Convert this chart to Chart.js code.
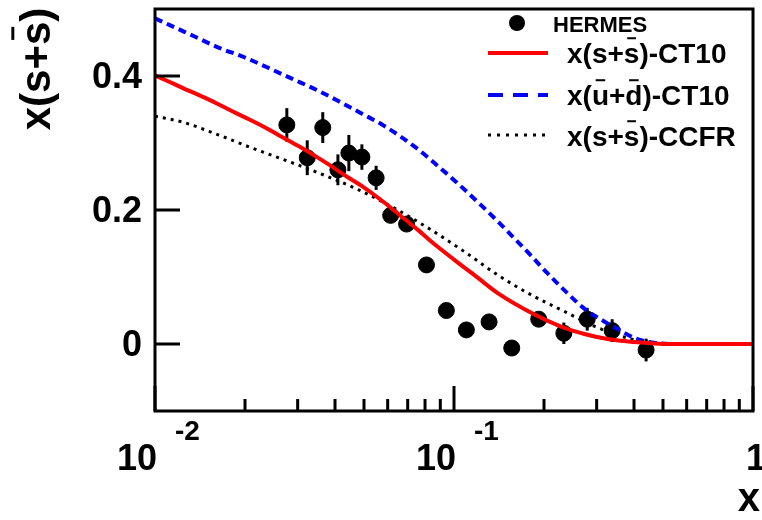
<!DOCTYPE html>
<html>
<head>
<meta charset="utf-8">
<script src="https://cdn.jsdelivr.net/npm/chart.js@4"></script>
<style>
  body { margin: 0; background: #fff; }
  #wrap { width: 762px; height: 520px; }
</style>
</head>
<body>
<div id="wrap"><canvas id="myChart" width="762" height="520"></canvas></div>
<script>
// HERMES points
let hermesX = [0.0276, 0.0323, 0.0364, 0.0409, 0.0445, 0.0492, 0.0549, 0.0614, 0.0694, 0.0809,
               0.0943, 0.110, 0.131, 0.156, 0.192, 0.233, 0.279, 0.338, 0.439];
let hermesY = [0.327, 0.278, 0.323, 0.260, 0.285, 0.279, 0.248, 0.192, 0.179, 0.118,
               0.050, 0.021, 0.033, -0.006, 0.037, 0.016, 0.037, 0.020, -0.009];
let hermesErr = [0.025, 0.026, 0.023, 0.023, 0.027, 0.019, 0.018, 0.010, 0.010, 0.008,
                 0.008, 0.008, 0.008, 0.010, 0.010, 0.016, 0.017, 0.017, 0.017];

// x(s+sbar) CT10
let ct10sX = [0.01, 0.0112, 0.0124, 0.0141, 0.0161, 0.0182, 0.0207, 0.0236, 0.0266, 0.0303,
              0.0345, 0.039, 0.0434, 0.0491, 0.0566, 0.0652, 0.0759, 0.0839, 0.1, 0.12,
              0.14, 0.186, 0.228, 0.273, 0.33, 0.40, 0.487, 0.6, 1.0];
let ct10sY = [0.401, 0.391, 0.382, 0.371, 0.359, 0.347, 0.335, 0.322, 0.309, 0.295,
              0.280, 0.265, 0.251, 0.236, 0.216, 0.194, 0.170, 0.153, 0.126, 0.099,
              0.076, 0.044, 0.026, 0.015, 0.007, 0.003, 0.0005, 0, 0];

// x(ubar+dbar) CT10
let ct10udX = [0.01, 0.0112, 0.0134, 0.0164, 0.0199, 0.0237, 0.0287, 0.0348, 0.0417, 0.0491,
               0.0582, 0.0746, 0.0882, 0.101, 0.122, 0.143, 0.155, 0.180, 0.205, 0.238,
               0.274, 0.317, 0.350, 0.407, 0.473, 0.55, 1.0];
let ct10udY = [0.486, 0.476, 0.460, 0.442, 0.428, 0.413, 0.396, 0.379, 0.361, 0.344,
               0.326, 0.293, 0.266, 0.243, 0.209, 0.179, 0.163, 0.133, 0.106, 0.077,
               0.052, 0.034, 0.023, 0.008, 0.0015, 0, 0];

// x(s+sbar) CCFR
let ccfrX = [0.01, 0.0124, 0.0161, 0.0207, 0.0266, 0.0345, 0.048, 0.0618, 0.080, 0.109,
             0.140, 0.180, 0.233, 0.300, 0.387, 0.473, 0.60, 1.0];
let ccfrY = [0.340, 0.331, 0.313, 0.294, 0.276, 0.257, 0.230, 0.205, 0.176, 0.137,
             0.103, 0.074, 0.049, 0.025, 0.008, 0.0015, 0, 0];

// axis ticks
let yTicks = [0, 0.2, 0.4];
let yTickLabels = ['0', '0.2', '0.4'];
let xMajorTicks = [0.01, 0.1, 1];
let xTickBase = ['10', '10', '1'];
let xTickExp = ['-2', '-1', ''];

const FONT = '"Liberation Sans", Arial, sans-serif';

function toPoints(xs, ys){
    return xs.map((x, i) => ({x: x, y: ys[i]}));
}

// draws text where some pieces carry an overline (bar)
function drawRich(ctx, parts, x, y, size, align){
    ctx.font = 'bold ' + size + 'px ' + FONT;
    let total = 0;
    for(let i = 0; i < parts.length; i++){
        total += ctx.measureText(parts[i][0]).width;
    }
    let cx = x;
    if(align === 'center') cx = x - total / 2;
    if(align === 'right') cx = x - total;
    ctx.textAlign = 'left';
    ctx.textBaseline = 'alphabetic';
    for(let i = 0; i < parts.length; i++){
        let w = ctx.measureText(parts[i][0]).width;
        ctx.fillText(parts[i][0], cx, y);
        if(parts[i][1]){
            ctx.fillRect(cx + w * 0.22, y - size * 0.92, w * 0.56, Math.max(2, size * 0.07));
        }
        cx += w;
    }
}

const decorPlugin = {
    id: 'decor',
    beforeDatasetsDraw(chart){
        // error bars of the HERMES points
        const ctx = chart.ctx, xs = chart.scales.x, ys = chart.scales.y;
        ctx.save();
        ctx.strokeStyle = '#000';
        ctx.lineWidth = 3;
        for(let i = 0; i < hermesX.length; i++){
            let px = xs.getPixelForValue(hermesX[i]);
            ctx.beginPath();
            ctx.moveTo(px, ys.getPixelForValue(hermesY[i] - hermesErr[i]));
            ctx.lineTo(px, ys.getPixelForValue(hermesY[i] + hermesErr[i]));
            ctx.stroke();
        }
        ctx.restore();
    },
    afterDatasetsDraw(chart){
        const ctx = chart.ctx, xs = chart.scales.x, ys = chart.scales.y;
        const a = chart.chartArea;
        ctx.save();
        ctx.strokeStyle = '#000';
        ctx.fillStyle = '#000';
        ctx.lineWidth = 3;
        ctx.strokeRect(a.left, a.top, a.right - a.left, a.bottom - a.top);

        // y ticks + labels
        ctx.font = 'bold 36px ' + FONT;
        ctx.textAlign = 'right';
        ctx.textBaseline = 'middle';
        for(let i = 0; i < yTicks.length; i++){
            let py = ys.getPixelForValue(yTicks[i]);
            ctx.beginPath();
            ctx.moveTo(a.left, py);
            ctx.lineTo(a.left + 25, py);
            ctx.stroke();
            ctx.fillText(yTickLabels[i], a.left - 13, py + 2);
        }

        // x ticks (log): majors and minors
        for(let d = 0; d < xMajorTicks.length; d++){
            let base = xMajorTicks[d];
            let px = xs.getPixelForValue(base);
            ctx.beginPath();
            ctx.moveTo(px, a.bottom);
            ctx.lineTo(px, a.bottom - 25);
            ctx.stroke();
            if(d < xMajorTicks.length - 1){
                for(let m = 2; m <= 9; m++){
                    let mx = xs.getPixelForValue(base * m);
                    ctx.beginPath();
                    ctx.moveTo(mx, a.bottom);
                    ctx.lineTo(mx, a.bottom - 12);
                    ctx.stroke();
                }
            }
            ctx.textBaseline = 'alphabetic';
            ctx.font = 'bold 36px ' + FONT;
            if(xTickExp[d] !== ''){
                ctx.textAlign = 'right';
                ctx.fillText(xTickBase[d], px + 2, 470);
                ctx.font = 'bold 28px ' + FONT;
                ctx.textAlign = 'left';
                ctx.fillText(xTickExp[d], px + 20, 440);
            } else {
                ctx.textAlign = 'left';
                ctx.fillText(xTickBase[d], px - 7, 470);
            }
        }

        // axis titles
        ctx.font = 'bold 40px ' + FONT;
        ctx.textAlign = 'right';
        ctx.textBaseline = 'alphabetic';
        ctx.fillText('x', 760, 511);

        ctx.save();
        ctx.translate(50, 69);
        ctx.rotate(-Math.PI / 2);
        drawRich(ctx, [['x(s+', false], ['s', true], [')', false]], 0, 0, 42, 'center');
        ctx.restore();
        ctx.restore();
    },
    afterDraw(chart){
        // legend
        const ctx = chart.ctx;
        ctx.save();
        ctx.fillStyle = '#000';
        ctx.beginPath();
        ctx.arc(517, 23, 8, 0, Math.PI * 2);
        ctx.fill();
        ctx.font = 'bold 22px ' + FONT;
        ctx.textAlign = 'left';
        ctx.textBaseline = 'alphabetic';
        ctx.fillText('HERMES', 553, 32);

        ctx.lineWidth = 4;
        ctx.strokeStyle = '#ff0000';
        ctx.beginPath(); ctx.moveTo(488, 53); ctx.lineTo(548, 53); ctx.stroke();
        ctx.strokeStyle = '#0000ff';
        ctx.setLineDash([15, 10]);
        ctx.beginPath(); ctx.moveTo(488, 95); ctx.lineTo(548, 95); ctx.stroke();
        ctx.strokeStyle = '#000';
        ctx.lineWidth = 3;
        ctx.setLineDash([3, 6]);
        ctx.beginPath(); ctx.moveTo(488, 135); ctx.lineTo(548, 135); ctx.stroke();
        ctx.setLineDash([]);

        drawRich(ctx, [['x(s+', false], ['s', true], [')-CT10', false]], 567, 63, 28, 'left');
        drawRich(ctx, [['x(', false], ['u', true], ['+', false], ['d', true], [')-CT10', false]], 567, 105, 28, 'left');
        drawRich(ctx, [['x(s+', false], ['s', true], [')-CCFR', false]], 567, 146, 28, 'left');
        ctx.restore();
    }
};

const ctx = document.getElementById('myChart').getContext('2d');
new Chart(ctx, {
    type: 'scatter',
    data: {
        datasets: [
            {
                label: 'x(s+s)-CT10',
                data: toPoints(ct10sX, ct10sY),
                showLine: true,
                borderColor: '#ff0000',
                borderWidth: 4,
                pointRadius: 0,
                cubicInterpolationMode: 'monotone',
                order: 1
            },
            {
                label: 'x(u+d)-CT10',
                data: toPoints(ct10udX, ct10udY),
                showLine: true,
                borderColor: '#0000ff',
                borderWidth: 4,
                borderDash: [8, 5],
                pointRadius: 0,
                cubicInterpolationMode: 'monotone',
                order: 2
            },
            {
                label: 'x(s+s)-CCFR',
                data: toPoints(ccfrX, ccfrY),
                showLine: true,
                borderColor: '#000000',
                borderWidth: 3,
                borderDash: [3, 5],
                pointRadius: 0,
                cubicInterpolationMode: 'monotone',
                order: 3
            },
            {
                label: 'HERMES',
                data: toPoints(hermesX, hermesY),
                showLine: false,
                backgroundColor: '#000',
                borderColor: '#000',
                pointRadius: 8,
                pointHoverRadius: 8,
                order: 10
            }
        ]
    },
    options: {
        responsive: false,
        animation: false,
        devicePixelRatio: 1,
        layout: { padding: { left: 155, right: 5, top: 3, bottom: 109 } },
        plugins: { legend: { display: false }, tooltip: { enabled: false } },
        scales: {
            x: { type: 'logarithmic', min: 0.01, max: 1, display: false },
            y: { type: 'linear', min: -0.1, max: 0.5, display: false }
        }
    },
    plugins: [decorPlugin]
});
</script>
</body>
</html>
